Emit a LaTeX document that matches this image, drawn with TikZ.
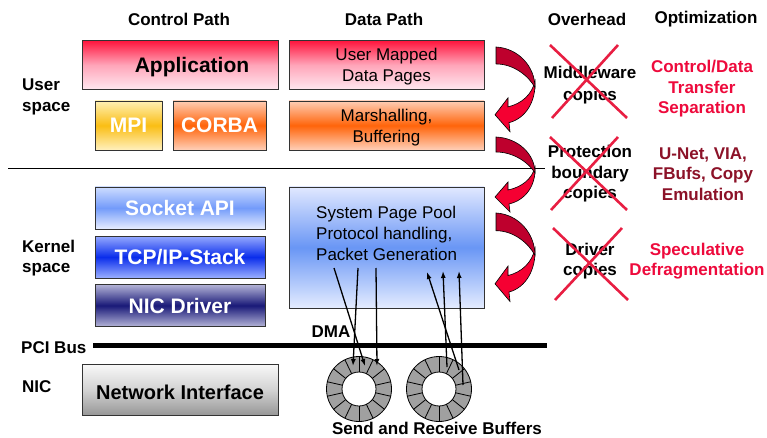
\documentclass[tikz,border=0pt]{standalone}
\usepackage{fontspec}
\setmainfont{Liberation Sans}
\usetikzlibrary{arrows.meta}
\definecolor{crossred}{RGB}{232,30,66}
\definecolor{optred}{RGB}{238,10,60}
\definecolor{optdark}{RGB}{140,18,40}
\definecolor{arrbright}{RGB}{245,0,50}
\definecolor{arrdark}{RGB}{190,0,45}
\definecolor{ringgray}{RGB}{160,160,160}
\definecolor{appT}{RGB}{255,20,60}
\definecolor{appM}{RGB}{255,165,185}
\definecolor{appB}{RGB}{255,232,240}
\definecolor{mpiT}{RGB}{255,240,180}
\definecolor{mpiM}{RGB}{250,190,20}
\definecolor{mpiB}{RGB}{255,240,190}
\definecolor{orT}{RGB}{255,205,180}
\definecolor{orM}{RGB}{255,100,10}
\definecolor{orB}{RGB}{255,208,185}
\definecolor{sockT}{RGB}{205,220,255}
\definecolor{sockM}{RGB}{115,155,250}
\definecolor{sockB}{RGB}{232,238,255}
\definecolor{tcpT}{RGB}{150,170,255}
\definecolor{tcpM}{RGB}{10,45,235}
\definecolor{tcpB}{RGB}{155,175,255}
\definecolor{nicT}{RGB}{180,180,215}
\definecolor{nicM}{RGB}{25,25,120}
\definecolor{nicB}{RGB}{180,180,215}
\definecolor{sppT}{RGB}{225,232,255}
\definecolor{sppM}{RGB}{105,150,245}
\definecolor{sppB}{RGB}{228,236,255}
\definecolor{niT}{RGB}{248,248,248}
\definecolor{niM}{RGB}{210,210,210}
\definecolor{niB}{RGB}{150,150,150}
\tikzset{
  curvarrow/.pic={
    \filldraw[fill=arrbright, draw=black, line width=0.6pt]
      (39,30) .. controls (40,48) and (30,63) .. (13,67) -- (14,75) -- (-1,60) -- (12,45) -- (12,53)
      .. controls (26,50) and (36,42) .. (39,30) -- cycle;
    \filldraw[fill=arrdark, draw=black, line width=0.6pt]
      (0,0) .. controls (22,1) and (39,17) .. (39,36) .. controls (33,26) and (18,15) .. (0,15) -- cycle;
  }
}
\begin{document}
\begin{tikzpicture}[x=1pt,y=-1pt,
  lbl/.style={font=\fontsize{17}{20.5}\selectfont\bfseries, align=center, inner sep=0pt},
  box/.style={draw=black!80, line width=0.8pt, inner sep=0pt, align=center},
  bigtxt/.style={font=\fontsize{21}{24}\selectfont\bfseries},
  regtxt/.style={font=\fontsize{17}{21}\selectfont},
  xline/.style={crossred, line width=2.6pt},
  dmaarrow/.style={line width=1.3pt, -{Latex[length=7pt,width=5pt]}},
  shApp/.style={top color=appT, bottom color=appB, middle color=appM},
  shMpi/.style={top color=mpiT, bottom color=mpiB, middle color=mpiM},
  shOr/.style={top color=orT, bottom color=orB, middle color=orM},
  shSock/.style={top color=sockT, bottom color=sockB, middle color=sockM},
  shTcp/.style={top color=tcpT, bottom color=tcpB, middle color=tcpM},
  shNic/.style={top color=nicT, bottom color=nicB, middle color=nicM},
  shSpp/.style={top color=sppT, bottom color=sppB, middle color=sppM},
  shNi/.style={top color=niT, bottom color=niB, middle color=niM}
]
\useasboundingbox (0,0) rectangle (767,438);
\fill[white] (0,0) rectangle (767,438);

% headers
\node[lbl] (hcp) at (179,19) {Control Path};
\node[lbl] (hdp) at (384,19) {Data Path};
\node[lbl] (hov) at (587,19) {Overhead};
\node[lbl] (hop) at (706,19) {Optimization};

% left labels
\node[lbl, anchor=west, align=left] (us) at (22,97) {User\\space};
\node[lbl, anchor=west, align=left] (ks) at (22,258) {Kernel\\space};
\node[lbl, anchor=west] (pci) at (21,348) {PCI Bus};
\node[lbl, anchor=west] (nic) at (22,387) {NIC};

% separator and bus
\coordinate (sepL) at (8,168);
\coordinate (sepR) at (545,168);
\draw[line width=0.7pt] (sepL) -- (sepR);
\coordinate (busL) at (93,345);
\coordinate (busR) at (547,345);
\draw[line width=5pt] (busL) -- (busR);

% control path boxes
\node[box, shApp, minimum width=196pt, minimum height=49pt] (app) at (180,65) {};
\node[bigtxt, inner sep=0pt] (apptxt) at (192,67) {Application};
\node[box, shMpi, bigtxt, text=white, minimum width=67pt, minimum height=49pt] (mpi) at (128.5,125.5) {MPI};
\node[box, shOr, bigtxt, text=white, minimum width=93pt, minimum height=49pt] (corba) at (219.5,125.5) {CORBA};
\node[box, shSock, bigtxt, text=white, minimum width=170pt, minimum height=42pt] (sock) at (180,208) {Socket API};
\node[box, shTcp, bigtxt, text=white, minimum width=170pt, minimum height=42pt] (tcp) at (180,257) {TCP/IP-Stack};
\node[box, shNic, bigtxt, text=white, minimum width=170pt, minimum height=42pt] (drv) at (180,305.5) {NIC Driver};
\node[box, shNi, minimum width=196pt, minimum height=51pt] (ni) at (180,390) {};
\node[font=\fontsize{20}{24}\selectfont\bfseries, inner sep=0pt] (nitxt) at (180,392) {Network Interface};

% data path boxes
\node[box, shApp, minimum width=195pt, minimum height=49pt] (umd) at (386.5,65) {};
\node[regtxt, align=center, inner sep=0pt] (umdtxt) at (386.5,67) {User Mapped\\Data Pages};
\node[box, shOr, minimum width=195pt, minimum height=49pt] (mar) at (386.5,125.5) {};
\node[regtxt, align=center, inner sep=0pt] (martxt) at (386.5,128) {Marshalling,\\Buffering};
\node[box, shSpp, minimum width=195pt, minimum height=121pt] (spp) at (386.5,247.5) {};
\node[regtxt, align=left, anchor=west, inner sep=0pt] (spptxt) at (316,233) {System Page Pool\\Protocol handling,\\Packet Generation};

% rings
\coordinate (rl) at (359,389);
\coordinate (rr) at (439,389);
\foreach \c in {rl,rr} {
  \fill[ringgray, even odd rule] (\c) circle (32.5) (\c) circle (17);
  \draw[line width=0.8pt] (\c) circle (32.5) (\c) circle (17);
  \foreach \i in {0,...,13}
    \draw[line width=0.8pt] ([shift={(90+\i*360/14:17)}]\c) -- ([shift={(90+\i*360/14:32.5)}]\c);
}

% DMA arrows
\coordinate (a1s) at (334,268); \coordinate (a1e) at (365,366);
\coordinate (a2s) at (358,268); \coordinate (a2e) at (353,366);
\coordinate (a3s) at (376,268); \coordinate (a3e) at (377,366);
\coordinate (b1s) at (447,367); \coordinate (b1e) at (443,271);
\coordinate (b2s) at (463,385); \coordinate (b2e) at (459,271);
\coordinate (b3s) at (459,370); \coordinate (b3e) at (427,272);
\draw[dmaarrow] (a1s) -- (a1e);
\draw[dmaarrow] (a2s) -- (a2e);
\draw[dmaarrow] (a3s) -- (a3e);
\draw[dmaarrow] (b1s) -- (b1e);
\draw[dmaarrow] (b2s) -- (b2e);
\draw[dmaarrow] (b3s) -- (b3e);
\node[lbl] (dma) at (331,332) {DMA};
\node[lbl] (srb) at (437,428) {Send and Receive Buffers};

% curved arrows
\pic[yscale=1.13] at (496,47) {curvarrow};
\pic at (496,137) {curvarrow};
\pic[yscale=1.18] at (496,213) {curvarrow};

% overhead
\node[lbl, font=\fontsize{17}{21.5}\selectfont\bfseries] (ov1) at (590,85) {Middleware\\copies};
\node[lbl] (ov2) at (590,174) {Protection\\boundary\\copies};
\node[lbl] (ov3) at (590,261) {Driver\\copies};
\coordinate (x1a) at (550,45);  \coordinate (x1b) at (627,118);
\coordinate (x1c) at (618,45);  \coordinate (x1d) at (552,118);
\coordinate (x2a) at (550,137); \coordinate (x2b) at (627,210);
\coordinate (x2c) at (618,137); \coordinate (x2d) at (551,210);
\coordinate (x3a) at (553,228); \coordinate (x3b) at (628,300);
\coordinate (x3c) at (622,228); \coordinate (x3d) at (555,300);
\draw[xline] (x1a) -- (x1b); \draw[xline] (x1c) -- (x1d);
\draw[xline] (x2a) -- (x2b); \draw[xline] (x2c) -- (x2d);
\draw[xline] (x3a) -- (x3b); \draw[xline] (x3c) -- (x3d);

% optimization
\node[lbl, text=optred] (op1) at (702,89) {Control/Data\\Transfer\\Separation};
\node[lbl, text=optdark] (op2) at (703,174) {U-Net, VIA,\\FBufs, Copy\\Emulation};
\node[lbl, text=optred] (op3) at (697,261) {Speculative\\Defragmentation};
\end{tikzpicture}
\end{document}
